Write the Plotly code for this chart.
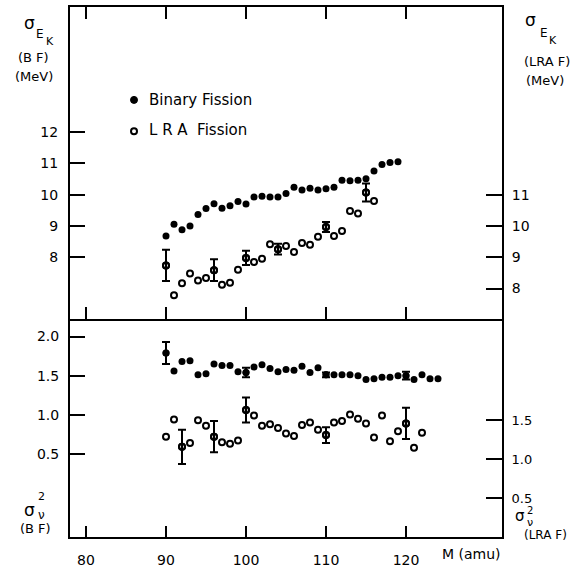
import plotly.graph_objects as go

# ---------------- data ----------------
mass_top_bf = list(range(90, 120))
ek_bf = [8.68, 9.06, 8.88, 9.00, 9.37, 9.56, 9.71, 9.57, 9.65, 9.78,
         9.70, 9.93, 9.95, 9.93, 9.93, 10.04, 10.24, 10.15, 10.21, 10.15,
         10.19, 10.24, 10.46, 10.45, 10.46, 10.51, 10.76, 10.97, 11.03, 11.05]

mass_top_lra = list(range(90, 117))
ek_lra = [8.74, 7.79, 8.17, 8.48, 8.26, 8.34, 8.59, 8.12, 8.19, 8.60,
          8.98, 8.85, 8.95, 9.42, 9.26, 9.36, 9.17, 9.46, 9.40, 9.66,
          9.97, 9.68, 9.84, 10.48, 10.40, 11.07, 10.80]
ek_lra_err_mass = [90, 96, 100, 104, 110, 115]
ek_lra_err = [0.50, 0.35, 0.23, 0.17, 0.16, 0.29]

mass_bot_bf = list(range(90, 125))
nu_bf = [1.79, 1.56, 1.68, 1.69, 1.51, 1.525, 1.65, 1.63, 1.63, 1.55,
         1.54, 1.61, 1.64, 1.59, 1.55, 1.58, 1.57, 1.62, 1.54, 1.60,
         1.51, 1.51, 1.51, 1.51, 1.50, 1.45, 1.46, 1.48, 1.48, 1.50,
         1.50, 1.45, 1.51, 1.46, 1.46]
nu_bf_err_mass = [90, 100, 110, 120]
nu_bf_err = [0.14, 0.06, 0.03, 0.05]

mass_bot_lra = list(range(90, 123))
nu_lra = [1.29, 1.51, 1.16, 1.21, 1.50, 1.43, 1.29, 1.22, 1.20, 1.24,
          1.63, 1.56, 1.43, 1.45, 1.40, 1.33, 1.30, 1.44, 1.47, 1.38,
          1.31, 1.47, 1.49, 1.575, 1.52, 1.46, 1.28, 1.56, 1.23, 1.36,
          1.46, 1.15, 1.34]
nu_lra_err_mass = [92, 96, 100, 110, 120]
nu_lra_err = [0.22, 0.20, 0.16, 0.10, 0.20]

x_ticks = [80, 90, 100, 110, 120]
ek_bf_ticks = [8, 9, 10, 11, 12]
ek_lra_ticks = [8, 9, 10, 11]
nu_bf_ticks = [0.5, 1.0, 1.5, 2.0]
nu_lra_ticks = [0.5, 1.0, 1.5]

# ---------------- geometry ----------------
W, H = 585, 573
L, R, T, B = 70, 502, 5, 547
PW, PH = R - L, B - T
SPLIT = 324
split_frac = (B - SPLIT) / PH

FONT = "DejaVu Sans"
BLACK = "black"


def pick(masses, values, sel):
    return [values[masses.index(m)] for m in sel]


def px_x(px):
    return (px - L) / PW


def px_y(py):
    return (B - py) / PH


fig = go.Figure()

filled = dict(symbol="circle", size=7, color=BLACK)
opened = dict(symbol="circle-open", size=6, color=BLACK, line=dict(width=2, color=BLACK))
err_style = dict(type="data", symmetric=True, thickness=2, width=4, color=BLACK)

# top panel
fig.add_trace(go.Scatter(x=mass_top_bf, y=ek_bf, mode="markers", marker=filled,
                         xaxis="x2", yaxis="y3", showlegend=False))
fig.add_trace(go.Scatter(x=mass_top_lra, y=ek_lra, mode="markers", marker=opened,
                         xaxis="x2", yaxis="y4", showlegend=False))
fig.add_trace(go.Scatter(x=ek_lra_err_mass, y=pick(mass_top_lra, ek_lra, ek_lra_err_mass),
                         mode="markers", marker=opened,
                         error_y=dict(array=ek_lra_err, **err_style),
                         xaxis="x2", yaxis="y4", showlegend=False))

# bottom panel
fig.add_trace(go.Scatter(x=mass_bot_bf, y=nu_bf, mode="markers", marker=filled,
                         xaxis="x", yaxis="y", showlegend=False))
fig.add_trace(go.Scatter(x=nu_bf_err_mass, y=pick(mass_bot_bf, nu_bf, nu_bf_err_mass),
                         mode="markers", marker=filled,
                         error_y=dict(array=nu_bf_err, **err_style),
                         xaxis="x", yaxis="y", showlegend=False))
fig.add_trace(go.Scatter(x=mass_bot_lra, y=nu_lra, mode="markers", marker=opened,
                         xaxis="x", yaxis="y2", showlegend=False))
fig.add_trace(go.Scatter(x=nu_lra_err_mass, y=pick(mass_bot_lra, nu_lra, nu_lra_err_mass),
                         mode="markers", marker=opened,
                         error_y=dict(array=nu_lra_err, **err_style),
                         xaxis="x", yaxis="y2", showlegend=False))

axis_common = dict(showline=True, linewidth=2, linecolor=BLACK, showgrid=False,
                   zeroline=False, ticks="inside", tickwidth=2, tickcolor=BLACK)
tick_font = dict(family=FONT, size=14, color=BLACK)

x_range = [78, 132]
fig.update_layout(
    width=W, height=H,
    margin=dict(l=L, r=W - R, t=T, b=H - B, pad=0),
    paper_bgcolor="white", plot_bgcolor="white",
    showlegend=False,
    xaxis=dict(domain=[0, 1], anchor="y", range=x_range, tickvals=x_ticks,
               ticklen=11, mirror=False, ticklabelstandoff=9, tickfont=tick_font,
               **axis_common),
    yaxis=dict(domain=[0, split_frac], anchor="x", range=[-0.5625, 2.225],
               tickvals=nu_bf_ticks, ticktext=[f"{v:.1f}" for v in nu_bf_ticks],
               ticklen=15, ticklabelstandoff=6, tickfont=tick_font, **axis_common),
    yaxis2=dict(overlaying="y", side="right", anchor="x", range=[0.0075, 2.795],
                tickvals=nu_lra_ticks, ticktext=[f"{v:.1f}" for v in nu_lra_ticks],
                ticklen=16, ticklabelstandoff=5,
                tickfont=dict(family=FONT, size=13, color=BLACK), **axis_common),
    xaxis2=dict(domain=[0, 1], anchor="y3", range=x_range, tickvals=x_ticks,
                ticklen=12, mirror="ticks", showticklabels=False, **axis_common),
    yaxis3=dict(domain=[split_frac, 1], anchor="x2", range=[6.03, 16],
                tickvals=ek_bf_ticks, ticklen=15, ticklabelstandoff=7, tickfont=tick_font,
                **axis_common),
    yaxis4=dict(overlaying="y3", side="right", anchor="x2", range=[7.03, 17],
                tickvals=ek_lra_ticks, ticklen=16, ticklabelstandoff=5, tickfont=tick_font,
                **axis_common),
)

annotations = []


def ann(text, px, py, size=13, xanchor="center"):
    annotations.append(dict(text=text, x=px_x(px), y=px_y(py), xref="paper", yref="paper",
                            xanchor=xanchor, yanchor="middle", showarrow=False,
                            font=dict(family=FONT, size=size, color=BLACK)))


# top-left axis title
ann("σ", 29, 21, 17)
ann("E", 40, 33, 12)
ann("K", 50, 40, 11)
ann("(B F)", 33, 57, 13)
ann("(MeV)", 34, 76, 13)
# top-right axis title
ann("σ", 530, 18, 17)
ann("E", 544, 32, 12)
ann("K", 553, 39, 11)
ann("(LRA F)", 547, 61, 13)
ann("(MeV)", 545, 80, 13)
# bottom-left axis title
ann("σ", 29, 519, 17)
ann("2", 41, 506, 11)
ann("ν", 41, 525, 12)
ann("(B F)", 35, 538, 13)
# bottom-right axis title
ann("σ", 520, 526, 15)
ann("2", 530, 520, 10)
ann("ν", 530, 532, 11)
ann("(LRA F)", 545, 545, 12)
# x label
ann("M (amu)", 440, 564, 14, xanchor="left")
# legend text
ann("Binary Fission", 147, 100, 15, xanchor="left")
ann("L R A  Fission", 147, 131, 15, xanchor="left")

fig.update_layout(annotations=annotations)

# legend symbols
shapes = [
    dict(type="circle", xref="paper", yref="paper", xsizemode="pixel", ysizemode="pixel",
         xanchor=px_x(134), yanchor=px_y(100), x0=-3.5, x1=3.5, y0=-3.5, y1=3.5,
         fillcolor=BLACK, line=dict(color=BLACK, width=1)),
    dict(type="circle", xref="paper", yref="paper", xsizemode="pixel", ysizemode="pixel",
         xanchor=px_x(134), yanchor=px_y(132), x0=-3, x1=3, y0=-3, y1=3,
         fillcolor="white", line=dict(color=BLACK, width=2)),
]
fig.update_layout(shapes=shapes)

fig.write_html("out.html")
